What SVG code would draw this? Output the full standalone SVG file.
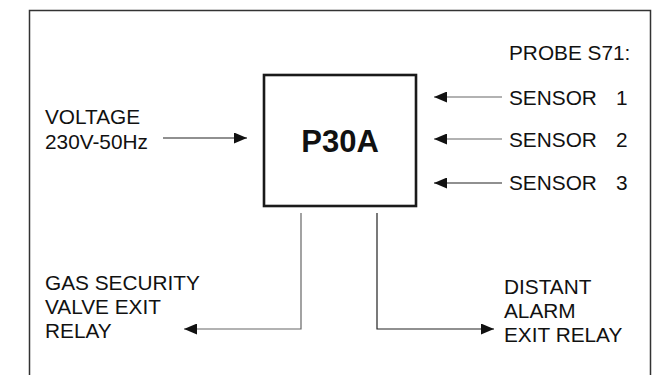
<svg xmlns="http://www.w3.org/2000/svg" width="658" height="375" viewBox="0 0 658 375">
<style>
text{font-family:"Liberation Sans",Arial,sans-serif;font-size:20.8px;fill:#111}
.big{font-size:31px;font-weight:bold}
.ln{fill:none;stroke:#222;stroke-width:1.2}
.lg{stroke:#666}
</style>
<defs>
<marker id="ah" viewBox="0 0 13 11" refX="13" refY="5.5" markerWidth="13" markerHeight="11" markerUnits="userSpaceOnUse" orient="auto">
<path d="M0,0 L13,5.5 L0,11 Z" fill="#111"/>
</marker>
</defs>
<rect width="658" height="375" fill="#fff"/>
<g id="frame">
<path d="M29.5,376 V10.5 H650.5 V376" fill="none" stroke="#333" stroke-width="1.5"/>
</g>
<g id="p30a">
<rect x="264" y="75" width="152" height="131" fill="#fff" stroke="#1a1a1a" stroke-width="2.6"/>
<text class="big" x="340" y="152" text-anchor="middle">P30A</text>
</g>
<g id="voltage">
<text x="45" y="124">VOLTAGE</text>
<text x="45" y="149">230V-50Hz</text>
</g>
<g id="probe">
<text x="509" y="60">PROBE S71:</text>
</g>
<g id="sensor1"><text x="509" y="105">SENSOR<tspan x="616">1</tspan></text></g>
<g id="sensor2"><text x="509" y="147">SENSOR<tspan x="616">2</tspan></text></g>
<g id="sensor3"><text x="509" y="190">SENSOR<tspan x="616">3</tspan></text></g>
<g id="gas">
<text x="45" y="290">GAS SECURITY</text>
<text x="45" y="314">VALVE EXIT</text>
<text x="45" y="338">RELAY</text>
</g>
<g id="alarm">
<text x="504" y="294">DISTANT</text>
<text x="504" y="318">ALARM</text>
<text x="504" y="342">EXIT RELAY</text>
</g>
<g id="connectors">
<path class="ln" d="M163,138 H247" marker-end="url(#ah)"/>
<path class="ln lg" d="M502,97 H434" marker-end="url(#ah)"/>
<path class="ln lg" d="M502,139 H434" marker-end="url(#ah)"/>
<path class="ln" d="M502,183 H434" marker-end="url(#ah)"/>
<path class="ln lg" d="M301,213 V329 H184" marker-end="url(#ah)"/>
<path class="ln" d="M377,213 V329 H494" marker-end="url(#ah)"/>
</g>
</svg>
